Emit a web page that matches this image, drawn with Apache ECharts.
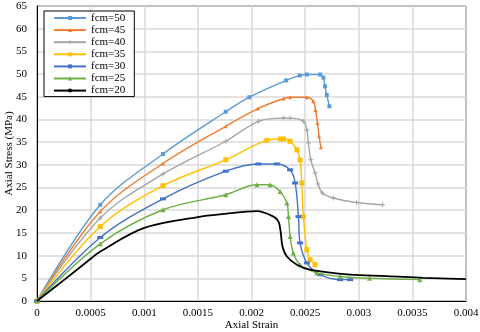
<!DOCTYPE html>
<html>
<head>
<meta charset="utf-8">
<script src="https://cdn.jsdelivr.net/npm/echarts@6/dist/echarts.min.js"></script>
<style>html,body{margin:0;padding:0;background:#fff}#c{width:480px;height:332px}</style>
</head>
<body>
<div id="c"></div>
<script>
// ---- data (strain, stress MPa) ----
const seriesNames = ['fcm=50','fcm=45','fcm=40','fcm=35','fcm=30','fcm=25','fcm=20'];
const fcm50 = [[0,0],[0.00059,21.2],[0.001175,32.4],[0.00176,41.7],[0.00198,44.9],[0.002323,48.6],[0.00245,49.7],[0.002516,49.9],[0.00264,49.9],[0.00267,49.2],[0.002686,47.3],[0.002702,45.4],[0.002726,42.9]];
const fcm45 = [[0,0],[0.00059,19.7],[0.001175,30.3],[0.00176,38.5],[0.00206,42.4],[0.0023,44.6],[0.00236,44.9],[0.002516,44.9],[0.002577,44.0],[0.002596,42.1],[0.002615,39.2],[0.00263,36.3],[0.002646,33.9]];
const fcm40 = [[0,0],[0.00059,18.3],[0.001175,28.0],[0.00176,35.2],[0.002065,39.6],[0.0023,40.3],[0.00236,40.3],[0.002484,39.6],[0.002516,37.7],[0.002531,34.8],[0.002553,31.1],[0.002593,28.2],[0.00262,25.8],[0.00266,23.8],[0.002763,22.7],[0.00298,21.7],[0.003223,21.2]];
const fcm35 = [[0,0],[0.00059,16.4],[0.001175,25.4],[0.00176,31.1],[0.002143,35.4],[0.002267,35.7],[0.002298,35.7],[0.00236,35.2],[0.002423,33.3],[0.002453,31.1],[0.002469,26.0],[0.002484,18.6],[0.002516,11.3],[0.002546,9.1],[0.002593,8.0]];
const fcm30 = [[0,0],[0.00059,14.0],[0.001175,22.5],[0.00176,28.6],[0.002065,30.2],[0.002236,30.2],[0.00236,28.9],[0.002407,26.0],[0.002438,18.6],[0.002453,12.8],[0.002516,8.4],[0.00264,5.8],[0.002826,4.7],[0.00292,4.7]];
const fcm25 = [[0,0],[0.00059,12.6],[0.001175,20.1],[0.00176,23.4],[0.00205,25.6],[0.002174,25.6],[0.002267,24.1],[0.00233,21.6],[0.002345,18.6],[0.00236,14.2],[0.00239,10.6],[0.002453,8.0],[0.002609,6.2],[0.002826,5.4],[0.0031,5.0],[0.00357,4.7]];
const fcm20 = [[0,0],[0.00025,4.6],[0.0005,9.3],[0.00059,10.9],[0.001,16.1],[0.0015,18.5],[0.00175,19.2],[0.00205,19.8],[0.002205,18.6],[0.002252,17.5],[0.002273,15.0],[0.002289,12.0],[0.00233,9.8],[0.002423,8.0],[0.002546,6.9],[0.00292,5.8],[0.00326,5.5],[0.0036,5.1],[0.004,4.8]];
const xTickLabels = ['0','0.0005','0.001','0.0015','0.002','0.0025','0.003','0.0035','0.004'];
const yTickLabels = ['0','5','10','15','20','25','30','35','40','45','50','55','60','65'];

const allData = [fcm50,fcm45,fcm40,fcm35,fcm30,fcm25,fcm20];
const colors = ['#5B9BD5','#ED7D31','#A5A5A5','#FFC000','#4472C4','#70AD47','#000000'];
const plus = 'path://M4,0h2v4h4v2h-4v4h-2v-4h-4v-2h4z';
const dash = 'path://M0,0h10v4h-10z';
const symbols = ['rect','triangle',plus,'rect',dash,'triangle','none'];
const symbolSizes = [4,4,5,5,[6,3],5,0];

const font = 'Liberation Serif, Times New Roman, serif';
const chart = echarts.init(document.getElementById('c'), null, {renderer:'canvas'});
chart.setOption({
  animation:false,
  backgroundColor:'#fff',
  textStyle:{fontFamily:font},
  grid:{left:37,right:14,top:6,bottom:31,show:true,borderColor:'#000',borderWidth:1,
        containLabel:false, outerBoundsMode:'none'},
  legend:{
    left:44, top:11, orient:'vertical',
    backgroundColor:'#fff', borderColor:'#000', borderWidth:1,
    padding:[1,9,0,9], itemGap:0.1, itemWidth:32, itemHeight:5,
    textStyle:{fontFamily:font,fontSize:11,color:'#000',lineHeight:12},
    data:seriesNames
  },
  xAxis:{
    type:'value', min:0, max:0.004, interval:0.0005,
    name:'Axial Strain', nameLocation:'middle', nameGap:19, nameMoveOverlap:false,
    nameTextStyle:{fontFamily:font,fontSize:11,color:'#000'},
    axisLine:{show:true,lineStyle:{color:'#000',width:1}},
    axisTick:{show:false},
    axisLabel:{fontFamily:font,fontSize:11,color:'#000',margin:7,
      formatter:v=>xTickLabels[Math.round(v/0.0005)]},
    splitLine:{show:true,lineStyle:{color:'#D9D9D9',width:1.5}}
  },
  yAxis:{
    type:'value', min:0, max:65, interval:5,
    name:'Axial Stress (MPa)', nameLocation:'middle', nameGap:22, nameMoveOverlap:false,
    nameTextStyle:{fontFamily:font,fontSize:11,color:'#000'},
    axisLine:{show:true,lineStyle:{color:'#000',width:1}},
    axisTick:{show:false},
    axisLabel:{fontFamily:font,fontSize:11,color:'#000',margin:10,
      formatter:v=>yTickLabels[Math.round(v/5)]},
    splitLine:{show:true,lineStyle:{color:'#D9D9D9',width:1.5}}
  },
  series: allData.map((d,i)=>({
    name:seriesNames[i], type:'line', data:d,
    smooth:0.35,
    showSymbol:i<6, symbol:symbols[i], symbolSize:symbolSizes[i],
    itemStyle:{color:colors[i]},
    lineStyle:{color:colors[i],width:i===6?1.8:1.4},
    z:2+i
  }))
});
</script>
</body>
</html>
